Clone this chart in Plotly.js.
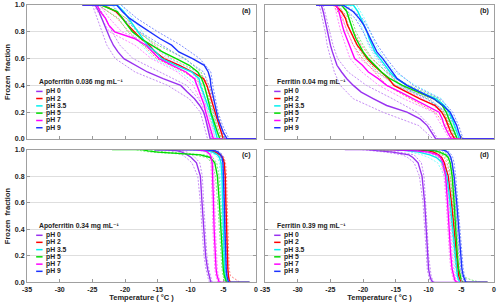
<!DOCTYPE html>
<html>
<head>
<meta charset="utf-8">
<script src="https://cdn.plot.ly/plotly-3.0.1.min.js"></script>
<style>html,body{margin:0;padding:0;background:#fff;}#chart{width:500px;height:306px;}</style>
</head>
<body>
<div id="chart"></div>
<script>
// ---------- DATA ----------
const phLabels = ['pH 0', 'pH 2', 'pH 3.5', 'pH 5', 'pH 7', 'pH 9'];
const panelTitles = ['Apoferritin 0.036 mg mL⁻¹', 'Ferritin 0.04 mg mL⁻¹',
                     'Apoferritin 0.34 mg mL⁻¹', 'Ferritin 0.39 mg mL⁻¹'];
const panelLetters = ['(a)', '(b)', '(c)', '(d)'];
const xTickVals = [-35, -30, -25, -20, -15, -10, -5, 0];
const xTickText = ['-35', '-30', '-25', '-20', '-15', '-10', '-5', '0'];
const yTickVals = [0, 0.2, 0.4, 0.6, 0.8, 1.0];

// frozen-fraction levels
const fAB  = [1, 1, 0.95, 0.9, 0.85, 0.8, 0.75, 0.7, 0.65, 0.6, 0.55, 0.5, 0.45, 0.4, 0.35, 0.3, 0.25, 0.2, 0.15, 0.1, 0.05, 0, 0];
const fABd = [1, 0.9, 0.8, 0.7, 0.6, 0.5, 0.4, 0.3, 0.2, 0.1, 0];
const fCD  = [1, 1, 0.99, 0.98, 0.96, 0.94, 0.9, 0.8, 0.6, 0.4, 0.2, 0.1, 0.05, 0.02, 0, 0];

// Panel (a) Apoferritin 0.036 mg/mL — temperatures (°C)
const a_pH0  = [-26.5, -24.6, -24.0, -23.6, -23.2, -22.8, -22.3, -21.8, -21.1, -20.2, -18.4, -16.6, -14.2, -11.5, -10.5, -9.4, -8.6, -8.0, -7.7, -7.5, -7.3, -7.0, 0];
const a_pH2  = [-26.5, -23.5, -21.4, -20.4, -19.6, -18.6, -17.6, -16.3, -15.4, -14.1, -11.7, -9.7, -8.0, -7.5, -7.2, -6.9, -6.6, -6.3, -6.0, -5.7, -5.4, -5.0, 0];
const a_pH35 = [-26.5, -21.2, -20.2, -19.5, -18.7, -18.1, -17.3, -16.6, -15.3, -14.4, -12.2, -9.8, -8.7, -8.5, -8.1, -7.7, -7.3, -7.0, -6.7, -6.4, -6.2, -5.9, 0];
const a_pH5  = [-26.5, -23.7, -21.2, -20.4, -19.6, -18.9, -17.6, -16.0, -14.3, -12.2, -10.2, -8.9, -8.3, -7.9, -7.6, -7.4, -7.1, -6.9, -6.6, -6.3, -5.9, -5.5, 0];
const a_pH7  = [-26.5, -24.3, -23.8, -23.0, -22.5, -21.6, -18.6, -16.8, -15.8, -14.8, -12.8, -10.7, -9.4, -9.0, -8.6, -8.2, -7.9, -7.7, -7.4, -7.1, -6.8, -6.5, 0];
const a_pH9  = [-26.5, -21.3, -20.4, -19.3, -17.8, -16.3, -14.7, -12.9, -11.8, -9.7, -7.9, -7.3, -7.0, -6.9, -6.7, -6.5, -6.3, -6.1, -5.8, -5.4, -5.0, -4.4, 0];
const a_pH0_lo  = [-25.0, -24.3, -23.6, -22.8, -21.5, -18.5, -13.5, -10.2, -8.5, -7.9, -7.4];
const a_pH0_hi  = [-24.2, -23.0, -22.0, -20.8, -18.8, -14.8, -10.6, -8.8, -7.6, -7.2, -6.7];
const a_pH2_lo  = [-24.0, -21.2, -19.4, -17.2, -15.2, -11.0, -8.0, -7.2, -6.6, -6.0, -5.3];
const a_pH2_hi  = [-23.0, -19.8, -17.9, -15.5, -13.0, -8.8, -7.1, -6.6, -6.0, -5.4, -4.7];
const a_pH35_lo = [-21.8, -20.3, -18.9, -17.5, -15.6, -11.5, -9.0, -8.0, -7.3, -6.7, -6.2];
const a_pH35_hi = [-20.6, -18.8, -17.4, -15.8, -13.2, -9.0, -8.0, -7.4, -6.7, -6.1, -5.6];
const a_pH5_lo  = [-24.2, -21.0, -19.6, -17.2, -13.8, -9.6, -8.3, -7.7, -7.2, -6.6, -5.8];
const a_pH5_hi  = [-23.2, -19.8, -18.2, -15.0, -10.8, -8.4, -7.6, -7.1, -6.6, -6.0, -5.2];
const a_pH7_lo  = [-24.8, -23.6, -22.4, -18.5, -16.0, -12.0, -9.6, -8.6, -8.0, -7.4, -6.8];
const a_pH7_hi  = [-23.9, -22.4, -20.5, -15.8, -13.6, -9.8, -8.6, -7.9, -7.4, -6.8, -6.2];
const a_pH9_lo  = [-22.0, -20.4, -17.8, -14.5, -11.0, -8.0, -7.2, -6.8, -6.4, -5.7, -4.7];
const a_pH9_hi  = [-20.6, -18.2, -15.0, -11.5, -8.6, -6.9, -6.6, -6.2, -5.8, -5.1, -4.1];

// Panel (b) Ferritin 0.04 mg/mL
const b_pH0  = [-27.2, -26.4, -26.1, -25.9, -25.6, -25.4, -25.2, -25.0, -24.7, -24.4, -24.0, -23.3, -22.5, -21.5, -20.3, -18.4, -16.4, -13.3, -11.3, -10.2, -9.5, -8.9, 0];
const b_pH2  = [-27.2, -24.3, -23.3, -22.7, -22.4, -21.9, -21.4, -20.9, -20.1, -19.4, -18.4, -17.3, -16.1, -15.3, -13.3, -11.3, -9.0, -8.0, -7.4, -7.0, -6.6, -6.0, 0];
const b_pH35 = [-27.2, -21.5, -20.8, -20.3, -19.8, -19.4, -19.1, -18.7, -18.2, -17.4, -16.6, -15.9, -14.9, -13.3, -11.3, -8.8, -7.6, -6.9, -6.4, -6.0, -5.7, -5.3, 0];
const b_pH5  = [-27.2, -23.3, -22.5, -22.2, -21.9, -21.5, -21.1, -20.5, -20.0, -19.2, -18.2, -17.2, -15.9, -14.0, -11.6, -9.2, -7.9, -7.3, -6.9, -6.5, -6.1, -5.6, 0];
const b_pH7  = [-27.2, -24.1, -23.7, -23.5, -23.2, -22.9, -22.5, -22.1, -21.8, -21.3, -20.1, -19.2, -17.7, -16.4, -14.3, -12.3, -10.2, -8.4, -7.9, -7.6, -7.1, -6.5, 0];
const b_pH9  = [-27.2, -23.1, -21.5, -20.6, -19.9, -19.4, -18.8, -18.4, -17.9, -17.0, -16.3, -15.5, -14.8, -13.3, -11.3, -9.2, -7.8, -6.7, -6.2, -5.7, -5.4, -5.0, 0];
const b_pH0_lo  = [-26.7, -26.2, -25.8, -25.5, -25.0, -24.4, -23.5, -21.5, -17.0, -11.5, -9.3];
const b_pH0_hi  = [-26.1, -25.6, -25.1, -24.6, -23.9, -22.3, -19.5, -15.5, -11.8, -9.8, -8.6];
const b_pH2_lo  = [-24.6, -23.2, -22.4, -21.5, -20.1, -18.2, -16.4, -12.8, -9.0, -7.4, -6.3];
const b_pH2_hi  = [-24.0, -22.2, -21.4, -20.3, -18.7, -16.4, -14.2, -9.8, -7.6, -6.7, -5.7];
const b_pH35_lo = [-22.0, -20.8, -19.9, -19.2, -18.0, -16.6, -14.5, -10.0, -7.3, -6.3, -5.6];
const b_pH35_hi = [-21.0, -19.8, -18.9, -18.1, -16.8, -15.2, -12.0, -8.0, -6.6, -5.7, -5.0];
const b_pH5_lo  = [-23.7, -22.6, -21.9, -21.0, -19.7, -17.8, -15.0, -10.2, -7.7, -6.8, -5.9];
const b_pH5_hi  = [-22.9, -21.8, -21.1, -20.0, -18.6, -16.5, -13.0, -8.4, -7.0, -6.2, -5.3];
const b_pH7_lo  = [-24.4, -23.9, -23.4, -22.7, -22.0, -20.2, -17.6, -13.8, -9.2, -8.0, -6.8];
const b_pH7_hi  = [-23.8, -23.1, -22.4, -21.5, -20.5, -18.0, -15.0, -10.8, -7.9, -7.2, -6.2];
const b_pH9_lo  = [-23.5, -21.2, -20.0, -19.0, -17.7, -16.2, -14.3, -10.3, -7.2, -6.0, -5.3];
const b_pH9_hi  = [-22.7, -20.1, -18.9, -17.8, -16.4, -14.8, -12.3, -8.2, -6.3, -5.4, -4.7];

// Panel (c) Apoferritin 0.34 mg/mL
const c_pH0  = [-15.0, -14.0, -12.0, -11.3, -10.5, -9.9, -9.1, -8.5, -8.25, -8.0, -7.7, -7.4, -7.2, -7.0, -6.9, -1.0];
const c_pH2  = [-15.5, -9.0, -7.0, -6.2, -5.5, -5.1, -4.85, -4.7, -4.6, -4.5, -4.4, -4.3, -4.2, -4.1, -3.9, -1.0];
const c_pH35 = [-15.5, -10.0, -7.5, -6.6, -5.9, -5.6, -5.35, -5.2, -5.1, -5.0, -4.9, -4.8, -4.7, -4.55, -4.4, -1.0];
const c_pH5  = [-22.0, -17.5, -16.5, -15.0, -8.5, -7.0, -6.3, -5.9, -5.6, -5.4, -5.2, -5.0, -4.85, -4.7, -4.5, -1.0];
const c_pH7  = [-15.5, -9.5, -7.8, -7.4, -7.0, -6.85, -6.7, -6.6, -6.5, -6.4, -6.25, -6.1, -5.95, -5.8, -5.6, -1.0];
const c_pH9  = [-15.5, -8.0, -6.2, -5.8, -5.4, -5.2, -5.05, -4.95, -4.85, -4.75, -4.65, -4.55, -4.45, -4.35, -4.2, -1.0];
const c_pH0_lo  = [-15.0, -14.5, -13.0, -12.3, -11.3, -10.7, -9.8, -8.9, -8.5, -8.25, -7.95, -7.65, -7.45, -7.25, -7.1, -1.0];
const c_pH0_hi  = [-15.0, -13.5, -11.3, -10.5, -9.8, -9.3, -8.6, -8.2, -8.0, -7.8, -7.5, -7.2, -7.0, -6.8, -6.7, -1.0];
const c_pH2_lo  = [-15.5, -9.8, -7.6, -6.7, -5.9, -5.4, -5.1, -4.9, -4.8, -4.7, -4.6, -4.5, -4.4, -4.3, -4.1, -1.0];
const c_pH2_hi  = [-15.5, -8.3, -6.5, -5.8, -5.2, -4.9, -4.65, -4.5, -4.4, -4.3, -4.2, -4.1, -3.9, -3.0, -2.4, -1.0];
const c_pH35_lo = [-15.5, -11.0, -8.3, -7.2, -6.3, -5.9, -5.6, -5.45, -5.3, -5.2, -5.1, -5.0, -4.9, -4.75, -4.6, -1.0];
const c_pH35_hi = [-15.5, -9.2, -7.0, -6.2, -5.6, -5.35, -5.15, -5.0, -4.9, -4.8, -4.7, -4.6, -4.5, -4.35, -4.2, -1.0];
const c_pH5_lo  = [-22.0, -18.5, -17.5, -16.0, -9.5, -7.6, -6.7, -6.2, -5.85, -5.6, -5.4, -5.2, -5.05, -4.9, -4.7, -1.0];
const c_pH5_hi  = [-22.0, -16.5, -15.5, -13.5, -7.8, -6.6, -6.0, -5.65, -5.4, -5.2, -5.0, -4.8, -4.65, -4.5, -4.3, -1.0];
const c_pH7_lo  = [-15.5, -10.2, -8.2, -7.7, -7.25, -7.05, -6.9, -6.8, -6.7, -6.6, -6.45, -6.3, -6.15, -6.0, -5.8, -1.0];
const c_pH7_hi  = [-15.5, -8.9, -7.5, -7.15, -6.8, -6.65, -6.5, -6.4, -6.3, -6.2, -6.05, -5.9, -5.75, -5.6, -5.4, -1.0];
const c_pH9_lo  = [-15.5, -8.7, -6.7, -6.2, -5.7, -5.45, -5.3, -5.15, -5.05, -4.95, -4.85, -4.75, -4.65, -4.55, -4.4, -1.0];
const c_pH9_hi  = [-15.5, -7.4, -5.8, -5.5, -5.15, -5.0, -4.85, -4.75, -4.65, -4.55, -4.45, -4.35, -4.25, -4.15, -4.0, -1.0];

// Panel (d) Ferritin 0.39 mg/mL
const d_pH0  = [-22.8, -19.5, -17.5, -15.5, -13.0, -12.4, -11.6, -11.0, -10.6, -10.4, -10.2, -10.0, -9.8, -9.6, -9.3, -1.0];
const d_pH2  = [-17.5, -12.0, -10.0, -9.2, -8.5, -8.0, -7.6, -7.0, -6.5, -6.1, -5.8, -5.6, -5.4, -5.2, -5.0, -1.0];
const d_pH35 = [-18.0, -15.0, -13.0, -11.5, -9.8, -8.8, -7.9, -7.2, -6.7, -6.3, -6.0, -5.8, -5.6, -5.4, -5.2, -1.0];
const d_pH5  = [-17.5, -11.0, -9.0, -8.3, -7.4, -7.0, -6.7, -6.4, -6.1, -5.9, -5.6, -5.4, -5.2, -5.0, -4.8, -1.0];
const d_pH7  = [-18.0, -16.0, -12.0, -10.0, -8.6, -8.2, -7.8, -7.4, -7.1, -6.9, -6.6, -6.4, -6.2, -6.0, -5.7, -1.0];
const d_pH9  = [-15.0, -8.0, -7.4, -7.1, -6.8, -6.6, -6.4, -6.1, -5.7, -5.4, -5.1, -4.9, -4.7, -4.5, -4.3, -1.0];
const d_pH0_lo  = [-22.8, -20.5, -18.5, -16.5, -14.0, -13.2, -12.2, -11.4, -10.85, -10.6, -10.4, -10.2, -10.0, -9.8, -9.5, -1.0];
const d_pH0_hi  = [-22.8, -18.5, -16.5, -14.5, -12.2, -11.8, -11.1, -10.7, -10.4, -10.2, -10.0, -9.8, -9.6, -9.4, -9.1, -1.0];
const d_pH2_lo  = [-17.5, -13.0, -11.0, -9.8, -9.0, -8.5, -8.0, -7.4, -6.8, -6.35, -6.0, -5.8, -5.6, -5.4, -5.2, -1.0];
const d_pH2_hi  = [-17.5, -11.0, -9.2, -8.6, -8.0, -7.6, -7.2, -6.7, -6.25, -5.9, -5.6, -5.4, -5.2, -5.0, -4.8, -1.0];
const d_pH35_lo = [-18.0, -15.5, -13.5, -12.5, -11.0, -10.0, -8.6, -7.6, -6.95, -6.5, -6.2, -6.0, -5.8, -5.6, -5.4, -1.0];
const d_pH35_hi = [-18.0, -14.0, -12.0, -10.5, -9.0, -8.2, -7.5, -6.9, -6.45, -6.1, -5.8, -5.6, -5.4, -5.2, -5.0, -1.0];
const d_pH5_lo  = [-17.5, -12.0, -9.8, -8.8, -7.8, -7.3, -6.95, -6.65, -6.35, -6.1, -5.85, -5.65, -5.45, -5.25, -5.0, -1.0];
const d_pH5_hi  = [-17.5, -10.0, -8.4, -7.8, -7.1, -6.75, -6.45, -6.2, -5.9, -5.7, -5.4, -5.2, -5.0, -3.5, -2.0, -1.0];
const d_pH7_lo  = [-18.0, -16.5, -13.0, -11.0, -9.2, -8.6, -8.1, -7.65, -7.3, -7.1, -6.8, -6.6, -6.4, -6.2, -5.9, -1.0];
const d_pH7_hi  = [-18.0, -15.0, -11.0, -9.3, -8.2, -7.9, -7.5, -7.2, -6.9, -6.7, -6.4, -6.2, -6.0, -5.8, -5.5, -1.0];
const d_pH9_lo  = [-15.0, -8.6, -7.8, -7.4, -7.1, -6.9, -6.7, -6.35, -5.95, -5.6, -5.3, -5.1, -4.9, -4.7, -4.5, -1.0];
const d_pH9_hi  = [-15.0, -7.5, -7.0, -6.8, -6.5, -6.3, -6.1, -5.85, -5.5, -5.2, -4.9, -4.7, -4.5, -4.3, -4.1, -1.0];

// ---------- STYLE ----------
const solidColors = ['#9932F0', '#FF0000', '#00F0F0', '#00DD00', '#FF00FF', '#1C32FF'];
const dashColors  = ['#C58CF5', '#FF8080', '#80FFFF', '#80EA80', '#FF88FF', '#8090FF'];
const FONT = 'Liberation Sans, Arial, DejaVu Sans, sans-serif';

const panels = [
  {xa: 'x',  ya: 'y',  fS: fAB, fD: fABd,
   S: [a_pH0, a_pH2, a_pH35, a_pH5, a_pH7, a_pH9],
   L: [a_pH0_lo, a_pH2_lo, a_pH35_lo, a_pH5_lo, a_pH7_lo, a_pH9_lo],
   H: [a_pH0_hi, a_pH2_hi, a_pH35_hi, a_pH5_hi, a_pH7_hi, a_pH9_hi]},
  {xa: 'x2', ya: 'y2', fS: fAB, fD: fABd,
   S: [b_pH0, b_pH2, b_pH35, b_pH5, b_pH7, b_pH9],
   L: [b_pH0_lo, b_pH2_lo, b_pH35_lo, b_pH5_lo, b_pH7_lo, b_pH9_lo],
   H: [b_pH0_hi, b_pH2_hi, b_pH35_hi, b_pH5_hi, b_pH7_hi, b_pH9_hi]},
  {xa: 'x3', ya: 'y3', fS: fCD, fD: fCD,
   S: [c_pH0, c_pH2, c_pH35, c_pH5, c_pH7, c_pH9],
   L: [c_pH0_lo, c_pH2_lo, c_pH35_lo, c_pH5_lo, c_pH7_lo, c_pH9_lo],
   H: [c_pH0_hi, c_pH2_hi, c_pH35_hi, c_pH5_hi, c_pH7_hi, c_pH9_hi]},
  {xa: 'x4', ya: 'y4', fS: fCD, fD: fCD,
   S: [d_pH0, d_pH2, d_pH35, d_pH5, d_pH7, d_pH9],
   L: [d_pH0_lo, d_pH2_lo, d_pH35_lo, d_pH5_lo, d_pH7_lo, d_pH9_lo],
   H: [d_pH0_hi, d_pH2_hi, d_pH35_hi, d_pH5_hi, d_pH7_hi, d_pH9_hi]}
];

const traces = [];
panels.forEach(p => {
  for (let i = 0; i < 6; i++) {
    [p.L[i], p.H[i]].forEach(arr => traces.push({
      x: arr, y: p.fD, xaxis: p.xa, yaxis: p.ya, type: 'scatter', mode: 'lines',
      line: {color: dashColors[i], width: 1, dash: '2px,1.5px'}, hoverinfo: 'skip', showlegend: false
    }));
  }
  for (let i = 0; i < 6; i++) {
    traces.push({
      x: p.S[i], y: p.fS, xaxis: p.xa, yaxis: p.ya, type: 'scatter', mode: 'lines',
      name: phLabels[i], line: {color: solidColors[i], width: 1.4}, showlegend: false
    });
  }
});

function xAxis(domain, anchor, labels) {
  const ax = {
    domain: domain, anchor: anchor, range: [-35, 0], tickvals: xTickVals, ticktext: xTickText,
    showticklabels: labels, ticks: 'inside', ticklen: 3, tickwidth: 1, tickcolor: '#9a9a9a',
    showline: true, linecolor: '#a0a0a0', linewidth: 1, mirror: true, showgrid: false, zeroline: false,
    tickfont: {family: FONT, size: 7, color: '#222', weight: 'bold'}
  };
  if (labels) ax.title = {text: 'Temperature ( °C )', font: {family: FONT, size: 7.5, color: '#222', weight: 'bold'}, standoff: 1};
  return ax;
}
function yAxis(domain, anchor, labels) {
  const ax = {
    domain: domain, anchor: anchor, range: [0, 1], tickvals: yTickVals, tickformat: '.1f',
    showticklabels: labels, ticks: 'inside', ticklen: 3, tickwidth: 1, tickcolor: '#9a9a9a',
    showline: true, linecolor: '#a0a0a0', linewidth: 1, mirror: 'ticks',
    showgrid: true, gridcolor: '#dedede', gridwidth: 1, zeroline: false,
    tickfont: {family: FONT, size: 7, color: '#222', weight: 'bold'}
  };
  if (labels) ax.title = {text: 'Frozen  fraction', font: {family: FONT, size: 7.5, color: '#222', weight: 'bold'}, standoff: 3};
  return ax;
}

const xDomL = [0.054, 0.512], xDomR = [0.530, 0.988];
const yDomT = [0.5458, 0.9837], yDomB = [0.0768, 0.5114];

const annotations = [];
const shapes = [];
const refs = [['x', 'y'], ['x2', 'y2'], ['x3', 'y3'], ['x4', 'y4']];
const entryY = [0.355, 0.302, 0.247, 0.193, 0.138, 0.084];
refs.forEach((r, k) => {
  const xr = r[0] + ' domain', yr = r[1] + ' domain';
  annotations.push({xref: xr, yref: yr, x: 0.985, y: 0.955, xanchor: 'right', yanchor: 'middle',
    text: panelLetters[k], showarrow: false, font: {family: FONT, size: 7, color: '#222', weight: 'bold'}});
  annotations.push({xref: xr, yref: yr, x: 0.044, y: 0.425, xanchor: 'left', yanchor: 'middle',
    text: panelTitles[k], showarrow: false, font: {family: FONT, size: 6.8, color: '#222', weight: 'bold'}});
  for (let i = 0; i < 6; i++) {
    annotations.push({xref: xr, yref: yr, x: 0.075, y: entryY[i], xanchor: 'left', yanchor: 'middle',
      text: phLabels[i], showarrow: false, font: {family: FONT, size: 6.8, color: '#222', weight: 'bold'}});
    shapes.push({type: 'line', xref: xr, yref: yr, x0: 0.040, x1: 0.068, y0: entryY[i], y1: entryY[i],
      line: {color: solidColors[i], width: 1.5}});
  }
});

const layout = {
  width: 500, height: 306,
  margin: {l: 0, r: 0, t: 0, b: 0, pad: 0},
  paper_bgcolor: '#ffffff', plot_bgcolor: '#ffffff',
  showlegend: false,
  font: {family: FONT, size: 7, color: '#222'},
  xaxis:  xAxis(xDomL, 'y', false),
  yaxis:  yAxis(yDomT, 'x', true),
  xaxis2: xAxis(xDomR, 'y2', false),
  yaxis2: yAxis(yDomT, 'x2', false),
  xaxis3: xAxis(xDomL, 'y3', true),
  yaxis3: yAxis(yDomB, 'x3', true),
  xaxis4: xAxis(xDomR, 'y4', true),
  yaxis4: yAxis(yDomB, 'x4', false),
  annotations: annotations,
  shapes: shapes
};

Plotly.newPlot('chart', traces, layout, {staticPlot: true, displayModeBar: false});
</script>
</body>
</html>
